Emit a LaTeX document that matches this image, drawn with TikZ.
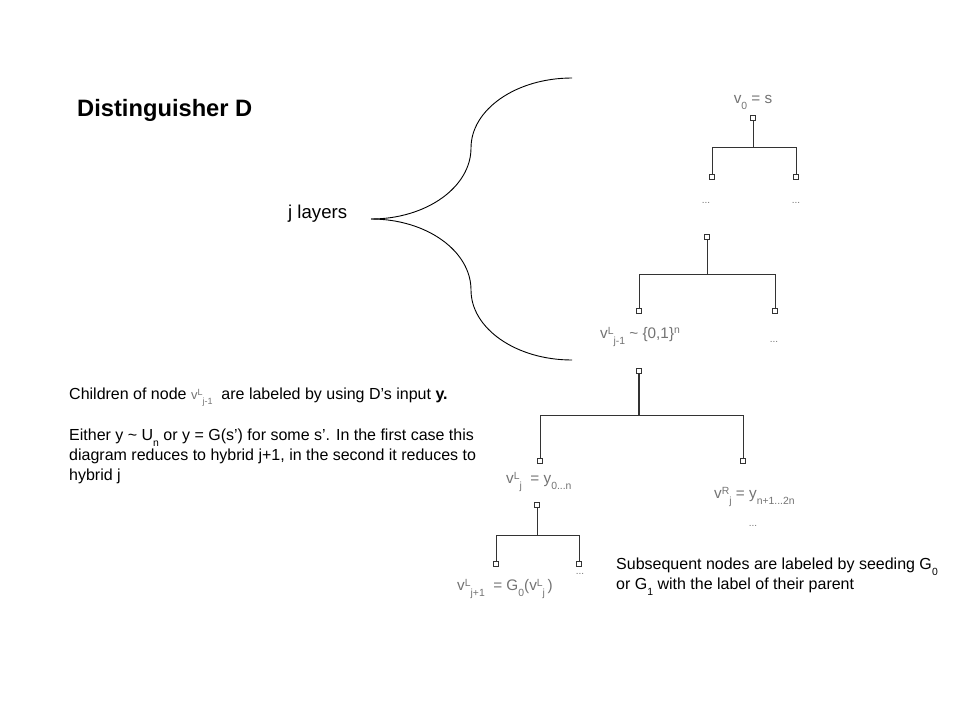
\documentclass[tikz,border=0pt]{standalone}
\usepackage{fontspec}
\setmainfont{Liberation Sans}
\newcommand\vsub[2]{v\raisebox{0.55ex}{\fontsize{10.4}{11}\selectfont #1}\raisebox{-0.75ex}{\fontsize{10.4}{11}\selectfont #2}}
\newcommand\vsubs[2]{v\raisebox{0.55ex}{\fontsize{9}{9}\selectfont #1}\raisebox{-0.75ex}{\fontsize{9}{9}\selectfont #2}}
\newcommand\lsub[1]{\raisebox{-0.75ex}{\fontsize{10.4}{11}\selectfont #1}}
\newcommand\lsup[1]{\raisebox{0.6ex}{\fontsize{10.4}{11}\selectfont #1}}
\begin{document}
\begin{tikzpicture}[x=1pt,y=-1pt,
  sq/.style={draw=black!80, fill=white, line width=0.8pt, minimum size=4.6pt, inner sep=0pt},
  edge/.style={draw=black!80, line width=1pt},
  thick edge/.style={draw=black!80, line width=2.4pt},
  lbl/.style={text=black!55, font=\fontsize{15.3}{17}\selectfont, inner sep=0pt, anchor=west},
  dots/.style={text=black!55, font=\fontsize{10}{11}\selectfont, inner sep=0pt},
  txt/.style={font=\fontsize{16}{20}\selectfont, inner sep=0pt, anchor=west, align=left},
  brace/.style={draw=black, line width=0.9pt, line join=round}]
\useasboundingbox (0,0) rectangle (960,720);

% titles
\node[anchor=west, inner sep=0pt, font=\fontsize{23.7}{26}\selectfont\bfseries] (title) at (77,110) {Distinguisher D};
\node[anchor=west, inner sep=0pt, font=\fontsize{18.6}{20}\selectfont] (layers) at (288,214) {j layers};

% brace
\coordinate (tip) at (371,219);
\draw[brace] (tip) arc[start angle=-90, end angle=0, x radius=100, y radius=-71]
  arc[start angle=180, end angle=90, x radius=101, y radius=-70];
\draw[brace] (tip) arc[start angle=90, end angle=0, x radius=100, y radius=-71]
  arc[start angle=180, end angle=270, x radius=101, y radius=-70];

% top subtree
\node[lbl, anchor=center] (l0) at (753,102) {v\lsub{0} = s};
\node[sq] (r0) at (753,118) {};
\node[sq] (a1) at (712,177) {};
\node[sq] (a2) at (796,177) {};
\coordinate (j0) at (753,147);
\draw[edge] (r0) -- (j0);
\draw[edge] (j0) -| (a1);
\draw[edge] (j0) -| (a2);
\node[dots] (d1) at (706,203) {...};
\node[dots] (d2) at (796,203) {...};

% second subtree
\node[sq] (r1) at (707,237) {};
\node[sq] (b1) at (639,311) {};
\node[sq] (b2) at (775,311) {};
\coordinate (j1) at (707,274);
\draw[edge] (r1) -- (j1);
\draw[edge] (j1) -| (b1);
\draw[edge] (j1) -| (b2);
\node[lbl] (lb1) at (600,337) {\vsub{L}{j-1} \textasciitilde\ \{0,1\}\lsup{n}};
\node[dots] (d3) at (774,342) {...};

% third subtree
\node[sq] (r2) at (639,371) {};
\node[sq] (c1) at (540,461) {};
\node[sq] (c2) at (743,461) {};
\coordinate (j2) at (639,415);
\draw[thick edge] (r2) -- (j2);
\draw[edge] (j2) -| (c1);
\draw[edge] (j2) -| (c2);
\node[lbl] (lc1) at (506,482) {\vsub{L}{j}\ \ = y\lsub{0...n}};
\node[lbl] (lc2) at (714,497) {\vsub{R}{j} = y\lsub{n+1...2n}};
\node[dots] (d4) at (753,526) {...};

% fourth subtree
\node[sq] (r3) at (537,505) {};
\node[sq] (e1) at (496,564) {};
\node[sq] (e2) at (579,564) {};
\coordinate (j3) at (537,535);
\draw[edge] (r3) -- (j3);
\draw[edge] (j3) -| (e1);
\draw[edge] (j3) -| (e2);
\node[lbl] (le1) at (457,589) {\vsub{L}{j+1}\ \ = G\lsub{0}(\vsub{L}{j}\,)};
\node[dots] (d5) at (580,574) {...};

% explanatory text
\node[txt] (t1) at (69,397) {Children of node {\color{black!55}\fontsize{13}{13}\selectfont\vsubs{L}{j-1}}\ \ are labeled by using D’s input \textbf{y.}};
\node[txt] (t2) at (69,456) {Either y \textasciitilde\ U\lsub{n} or y = G(s’) for some s’. In the first case this\\diagram reduces to hybrid j+1, in the second it reduces to\\hybrid j};
\node[txt] (t3) at (616,577) {Subsequent nodes are labeled by seeding G\lsub{0}\\or G\lsub{1} with the label of their parent};
\end{tikzpicture}
\end{document}
